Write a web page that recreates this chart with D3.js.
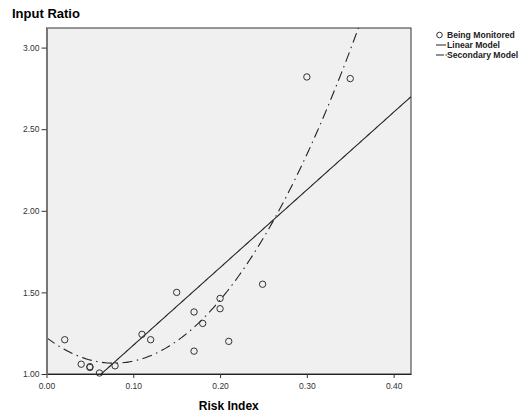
<!DOCTYPE html>
<html>
<head>
<meta charset="utf-8">
<script src="https://cdn.jsdelivr.net/npm/d3@7"></script>
<style>
  body { margin: 0; background: #fff; }
  svg text { font-family: "Liberation Sans", Arial, sans-serif; }
</style>
</head>
<body>
<script>
// observed points: risk index vs input ratio
var riskIndex  = [0.021, 0.040, 0.050, 0.050, 0.061, 0.079, 0.110, 0.120, 0.150, 0.170, 0.170, 0.180, 0.200, 0.200, 0.210, 0.249, 0.300, 0.350];
var inputRatio = [1.21, 1.06, 1.045, 1.04, 1.006, 1.05, 1.243, 1.21, 1.50, 1.38, 1.14, 1.31, 1.463, 1.40, 1.20, 1.55, 2.82, 2.81];

// fitted models
var linearCoef = [0.70, 4.76];          // a + b*x
var quadCoef   = [1.223, -4.03, 25.9];  // a + b*x + c*x^2

var xTicks = [0, 0.1, 0.2, 0.3, 0.4];
var yTicks = [1.0, 1.5, 2.0, 2.5, 3.0];
var legendLabels = ["Being Monitored", "Linear Model", "Secondary Model"];

var width = 525, height = 415;
var plot = {left: 46.5, right: 411, top: 28, bottom: 374};

var x = d3.scaleLinear().domain([0, 0.42]).range([plot.left, plot.right]);
var y = d3.scaleLinear().domain([1.0, 3.12]).range([plot.bottom, plot.top]);

var svg = d3.select("body").append("svg")
    .attr("width", width)
    .attr("height", height);

svg.append("defs").append("clipPath")
    .attr("id", "clip")
  .append("rect")
    .attr("x", plot.left)
    .attr("y", plot.top)
    .attr("width", plot.right - plot.left)
    .attr("height", plot.bottom - plot.top);

// plot background + frame
svg.append("rect")
    .attr("x", plot.left)
    .attr("y", plot.top)
    .attr("width", plot.right - plot.left)
    .attr("height", plot.bottom - plot.top)
    .attr("fill", "#f0f0f0")
    .attr("stroke", "#333")
    .attr("stroke-width", 1);

// model curves
var xs = d3.range(0, 0.4201, 0.002);
var lineGen = d3.line()
    .x(function(d) { return x(d[0]); })
    .y(function(d) { return y(d[1]); });

var linearPts = xs.map(function(v) { return [v, linearCoef[0] + linearCoef[1] * v]; });
var quadPts = xs.map(function(v) { return [v, quadCoef[0] + quadCoef[1] * v + quadCoef[2] * v * v]; });

var curves = svg.append("g").attr("clip-path", "url(#clip)");

curves.append("path")
    .attr("d", lineGen(linearPts))
    .attr("fill", "none")
    .attr("stroke", "#222")
    .attr("stroke-width", 1.1);

curves.append("path")
    .attr("d", lineGen(quadPts))
    .attr("fill", "none")
    .attr("stroke", "#222")
    .attr("stroke-width", 1.1)
    .attr("stroke-dasharray", "10,4.5,1.5,4.5");

// points
svg.append("g").selectAll("circle")
    .data(riskIndex)
  .enter().append("circle")
    .attr("cx", function(d) { return x(d); })
    .attr("cy", function(d, i) { return y(inputRatio[i]); })
    .attr("r", 3.2)
    .attr("fill", "none")
    .attr("stroke", "#333")
    .attr("stroke-width", 1);

// axes
var xAxis = svg.append("g")
    .attr("transform", "translate(0," + plot.bottom + ")")
    .call(d3.axisBottom(x).tickValues(xTicks).tickFormat(d3.format(".2f")).tickSizeInner(4).tickSizeOuter(0));

var yAxis = svg.append("g")
    .attr("transform", "translate(" + plot.left + ",0)")
    .call(d3.axisLeft(y).tickValues(yTicks).tickFormat(d3.format(".2f")).tickSizeInner(5).tickSizeOuter(0));

[xAxis, yAxis].forEach(function(a) {
  a.selectAll("text")
      .attr("fill", "#333")
      .style("font-size", "8.5px");
  a.selectAll(".tick line").attr("stroke", "#333");
});
xAxis.select(".domain").attr("stroke", "#222").attr("stroke-width", 1.2);
yAxis.select(".domain").attr("stroke", "#777").attr("stroke-width", 2);
xAxis.selectAll("text").attr("dy", "0.9em");
yAxis.selectAll("text").attr("x", -7);

// titles
svg.append("text")
    .attr("x", 12)
    .attr("y", 18)
    .style("font-size", "13px")
    .style("font-weight", "bold")
    .text("Input Ratio");

svg.append("text")
    .attr("x", (plot.left + plot.right) / 2)
    .attr("y", 410)
    .attr("text-anchor", "middle")
    .style("font-size", "12px")
    .style("font-weight", "bold")
    .text("Risk Index");

// legend
var legend = svg.append("g");
var legY = [35, 45, 55];

legend.append("circle")
    .attr("cx", 439.5)
    .attr("cy", legY[0])
    .attr("r", 2.8)
    .attr("fill", "none")
    .attr("stroke", "#333");

legend.append("line")
    .attr("x1", 436).attr("x2", 446)
    .attr("y1", legY[1]).attr("y2", legY[1])
    .attr("stroke", "#222");

legend.append("line")
    .attr("x1", 436).attr("x2", 447)
    .attr("y1", legY[2]).attr("y2", legY[2])
    .attr("stroke", "#222")
    .attr("stroke-dasharray", "8,1.5,1.5,1.5");

legend.selectAll("text")
    .data(legendLabels)
  .enter().append("text")
    .attr("x", 447)
    .attr("y", function(d, i) { return legY[i] + 3; })
    .style("font-size", "8.6px")
    .style("font-weight", "bold")
    .attr("fill", "#222")
    .text(function(d) { return d; });
</script>
</body>
</html>
